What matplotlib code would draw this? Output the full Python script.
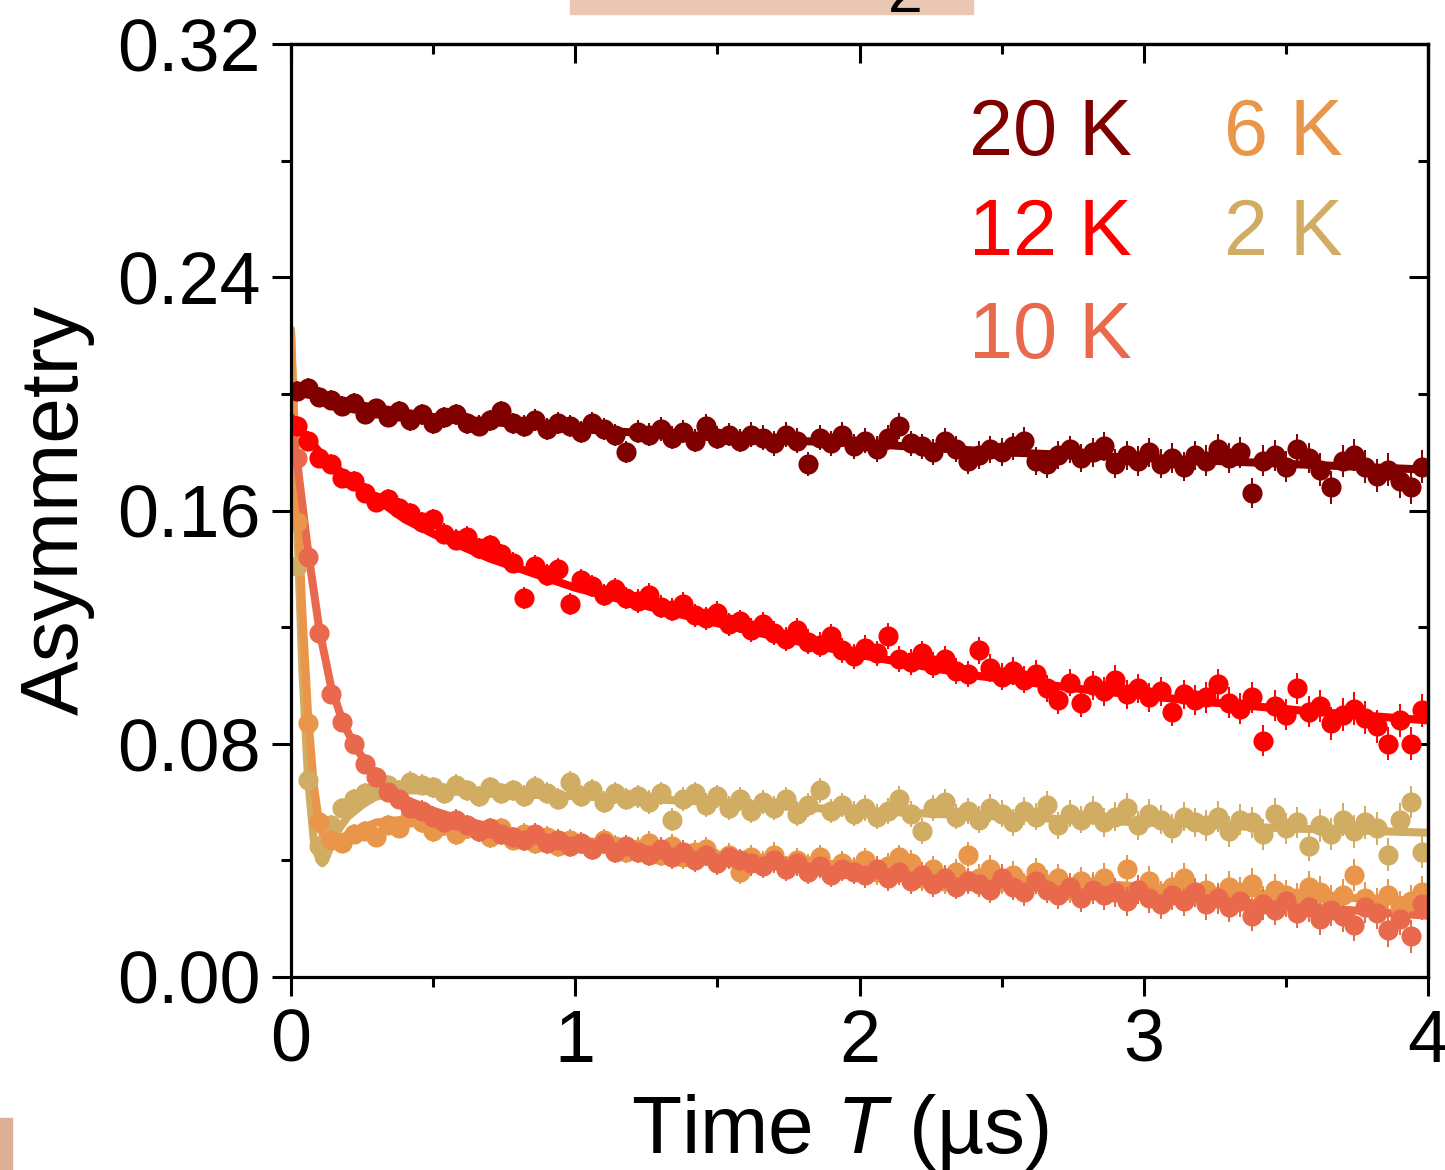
import matplotlib
matplotlib.use('Agg')
import matplotlib.pyplot as plt
import numpy as np
from matplotlib.ticker import MultipleLocator, FixedLocator
from matplotlib.patches import Rectangle

plt.rcParams['font.family'] = ['Liberation Sans', 'DejaVu Sans']
plt.rcParams['mathtext.fontset'] = 'custom'
plt.rcParams['mathtext.rm'] = 'Liberation Sans'
plt.rcParams['mathtext.it'] = 'Liberation Sans:italic'

# ---------------- data ----------------
time_us = [0.02, 0.06, 0.10, 0.14, 0.18, 0.22, 0.26, 0.30, 0.34, 0.38,
           0.42, 0.46, 0.50, 0.54, 0.58, 0.62, 0.66, 0.70, 0.74, 0.78,
           0.82, 0.86, 0.90, 0.94, 0.98, 1.02, 1.06, 1.10, 1.14, 1.18,
           1.22, 1.26, 1.30, 1.34, 1.38, 1.42, 1.46, 1.50, 1.54, 1.58,
           1.62, 1.66, 1.70, 1.74, 1.78, 1.82, 1.86, 1.90, 1.94, 1.98,
           2.02, 2.06, 2.10, 2.14, 2.18, 2.22, 2.26, 2.30, 2.34, 2.38,
           2.42, 2.46, 2.50, 2.54, 2.58, 2.62, 2.66, 2.70, 2.74, 2.78,
           2.82, 2.86, 2.90, 2.94, 2.98, 3.02, 3.06, 3.10, 3.14, 3.18,
           3.22, 3.26, 3.30, 3.34, 3.38, 3.42, 3.46, 3.50, 3.54, 3.58,
           3.62, 3.66, 3.70, 3.74, 3.78, 3.82, 3.86, 3.90, 3.94, 3.98]

# error bar half-widths per 0.4 us block (10 points each)
err_blocks = [0.0034, 0.0036, 0.0038, 0.0040, 0.0042, 0.0044, 0.0047, 0.0050, 0.0053, 0.0056]

a_20K = [0.201, 0.202, 0.199, 0.198, 0.196, 0.197, 0.193, 0.195, 0.192, 0.194,
         0.191, 0.193, 0.190, 0.192, 0.193, 0.190, 0.189, 0.191, 0.194, 0.190,
         0.189, 0.191, 0.188, 0.190, 0.189, 0.187, 0.190, 0.188, 0.186, 0.180,
         0.187, 0.186, 0.188, 0.185, 0.187, 0.184, 0.189, 0.185, 0.186, 0.184,
         0.186, 0.185, 0.183, 0.186, 0.184, 0.176, 0.185, 0.183, 0.186, 0.182,
         0.184, 0.181, 0.185, 0.189, 0.183, 0.182, 0.180, 0.184, 0.181, 0.177,
         0.179, 0.181, 0.180, 0.182, 0.184, 0.177, 0.176, 0.179, 0.181, 0.178,
         0.180, 0.182, 0.176, 0.179, 0.177, 0.180, 0.176, 0.178, 0.175, 0.179,
         0.177, 0.181, 0.178, 0.180, 0.166, 0.177, 0.179, 0.175, 0.181, 0.178,
         0.174, 0.168, 0.177, 0.179, 0.175, 0.172, 0.174, 0.170, 0.168, 0.175]

a_12K = [0.189, 0.184, 0.178, 0.176, 0.171, 0.170, 0.166, 0.163, 0.164, 0.161,
         0.159, 0.156, 0.157, 0.152, 0.150, 0.151, 0.147, 0.148, 0.145, 0.142,
         0.130, 0.141, 0.138, 0.140, 0.128, 0.136, 0.134, 0.131, 0.133, 0.130,
         0.129, 0.131, 0.127, 0.126, 0.128, 0.124, 0.123, 0.125, 0.121, 0.122,
         0.119, 0.121, 0.118, 0.116, 0.119, 0.115, 0.114, 0.117, 0.112, 0.110,
         0.113, 0.111, 0.117, 0.109, 0.108, 0.111, 0.107, 0.109, 0.105, 0.104,
         0.112, 0.106, 0.103, 0.105, 0.102, 0.104, 0.099, 0.095, 0.101, 0.094,
         0.100, 0.098, 0.102, 0.097, 0.099, 0.096, 0.098, 0.091, 0.097, 0.095,
         0.096, 0.1005, 0.094, 0.092, 0.096, 0.081, 0.093, 0.090, 0.099, 0.091,
         0.093, 0.087, 0.090, 0.092, 0.089, 0.086, 0.080, 0.088, 0.080, 0.0915]

a_10K = [0.178, 0.144, 0.118, 0.097, 0.0875, 0.080, 0.073, 0.0686, 0.0635, 0.061,
         0.058, 0.057, 0.055, 0.053, 0.054, 0.052, 0.050, 0.051, 0.049, 0.048,
         0.047, 0.049, 0.046, 0.047, 0.045, 0.046, 0.044, 0.046, 0.043, 0.045,
         0.043, 0.042, 0.044, 0.041, 0.043, 0.040, 0.042, 0.039, 0.041, 0.040,
         0.039, 0.038, 0.040, 0.037, 0.039, 0.036, 0.038, 0.035, 0.037, 0.036,
         0.035, 0.037, 0.034, 0.036, 0.033, 0.035, 0.032, 0.034, 0.031, 0.033,
         0.032, 0.030, 0.034, 0.031, 0.029, 0.033, 0.030, 0.028, 0.031, 0.027,
         0.030, 0.028, 0.029, 0.026, 0.030, 0.027, 0.025, 0.028, 0.026, 0.029,
         0.025, 0.027, 0.024, 0.026, 0.021, 0.025, 0.023, 0.026, 0.022, 0.024,
         0.020, 0.023, 0.021, 0.018, 0.024, 0.022, 0.016, 0.020, 0.014, 0.025]

a_6K = [0.156, 0.087, 0.053, 0.047, 0.046, 0.049, 0.050, 0.048, 0.052, 0.051,
        0.055, 0.053, 0.050, 0.052, 0.049, 0.051, 0.050, 0.048, 0.051, 0.047,
        0.049, 0.046, 0.048, 0.045, 0.047, 0.046, 0.044, 0.047, 0.045, 0.043,
        0.044, 0.046, 0.042, 0.045, 0.041, 0.043, 0.044, 0.040, 0.042, 0.036,
        0.041, 0.039, 0.042, 0.037, 0.040, 0.038, 0.041, 0.036, 0.039, 0.037,
        0.040, 0.036, 0.038, 0.041, 0.039, 0.034, 0.037, 0.033, 0.036, 0.042,
        0.034, 0.037, 0.033, 0.035, 0.031, 0.036, 0.032, 0.034, 0.030, 0.033,
        0.031, 0.034, 0.029, 0.037, 0.030, 0.033, 0.028, 0.031, 0.034, 0.029,
        0.030, 0.027, 0.031, 0.029, 0.032, 0.026, 0.030, 0.028, 0.027, 0.031,
        0.029, 0.026, 0.028, 0.035, 0.027, 0.025, 0.028, 0.024, 0.026, 0.029]

a_2K = [0.141, 0.0676, 0.045, 0.052, 0.058, 0.061, 0.063, 0.064, 0.066, 0.064,
        0.067, 0.066, 0.065, 0.063, 0.066, 0.064, 0.062, 0.065, 0.063, 0.064,
        0.062, 0.065, 0.063, 0.061, 0.067, 0.062, 0.064, 0.060, 0.063, 0.061,
        0.062, 0.060, 0.063, 0.054, 0.061, 0.063, 0.059, 0.062, 0.058, 0.061,
        0.057, 0.060, 0.058, 0.061, 0.056, 0.059, 0.064, 0.057, 0.059, 0.056,
        0.058, 0.055, 0.057, 0.061, 0.056, 0.050, 0.058, 0.060, 0.055, 0.057,
        0.054, 0.058, 0.056, 0.053, 0.057, 0.055, 0.059, 0.052, 0.056, 0.054,
        0.057, 0.053, 0.055, 0.058, 0.052, 0.056, 0.054, 0.051, 0.055, 0.053,
        0.052, 0.055, 0.050, 0.054, 0.053, 0.049, 0.056, 0.051, 0.053, 0.045,
        0.052, 0.049, 0.054, 0.050, 0.053, 0.051, 0.042, 0.054, 0.060, 0.043]

# fit curves
fit_t_20K = [0.0, 0.25, 0.5, 1.0, 1.5, 2.0, 2.5, 3.0, 3.5, 4.0]
fit_20K = [0.201, 0.196, 0.192, 0.188, 0.185, 0.183, 0.180, 0.178, 0.176, 0.174]

fit_t_12K = [0.0, 0.1, 0.2, 0.3, 0.4, 0.5, 0.7, 1.0, 1.3, 1.6, 2.0, 2.4, 2.8, 3.2, 3.6, 4.0]
fit_12K = [0.192, 0.180, 0.171, 0.164, 0.157, 0.152, 0.1435, 0.1335, 0.126, 0.119,
           0.1105, 0.1035, 0.0985, 0.0945, 0.091, 0.088]

fit_t_10K = [0.0, 0.02, 0.06, 0.10, 0.14, 0.18, 0.22, 0.26, 0.30, 0.35, 0.4, 0.5, 0.6,
             0.8, 1.0, 1.3, 1.6, 2.0, 2.5, 3.0, 3.5, 4.0]
fit_10K = [0.192, 0.178, 0.146, 0.119, 0.100, 0.088, 0.080, 0.074, 0.069, 0.065, 0.061,
           0.057, 0.054, 0.049, 0.046, 0.0425, 0.0395, 0.036, 0.032, 0.028, 0.0245, 0.021]

fit_t_6K = [0.0, 0.02, 0.04, 0.06, 0.08, 0.10, 0.12, 0.14, 0.17, 0.2, 0.25, 0.3, 0.4,
            0.5, 0.7, 1.0, 1.5, 2.0, 2.5, 3.0, 3.5, 4.0]
fit_6K = [0.222, 0.170, 0.125, 0.090, 0.066, 0.052, 0.047, 0.046, 0.047, 0.049, 0.051,
          0.053, 0.054, 0.053, 0.051, 0.047, 0.042, 0.038, 0.034, 0.031, 0.028, 0.026]

fit_t_2K = [0.0, 0.02, 0.04, 0.06, 0.08, 0.10, 0.11, 0.12, 0.14, 0.17, 0.2, 0.25, 0.3,
            0.4, 0.5, 0.7, 1.0, 1.5, 2.0, 2.5, 3.0, 3.5, 4.0]
fit_2K = [0.222, 0.160, 0.105, 0.068, 0.047, 0.040, 0.039, 0.040, 0.045, 0.051, 0.055,
          0.059, 0.062, 0.064, 0.064, 0.063, 0.062, 0.060, 0.057, 0.055, 0.053, 0.051, 0.0495]

labels = ['2 K', '6 K', '10 K', '12 K', '20 K']
colors = ['#D1AD63', '#E9964B', '#E8694B', '#FF0000', '#800000']

# ---------------- figure ----------------
W, H = 1445, 1170
fig = plt.figure(figsize=(W / 100, H / 100), dpi=100)
ax = fig.add_axes([291 / W, 1 - 977 / H, (1428 - 291) / W, (977 - 44) / H])

err = np.repeat(err_blocks, 10)
series = [(a_2K, fit_t_2K, fit_2K), (a_6K, fit_t_6K, fit_6K), (a_10K, fit_t_10K, fit_10K),
          (a_12K, fit_t_12K, fit_12K), (a_20K, fit_t_20K, fit_20K)]
for (vals, ft, fv), c in zip(series, colors):
    ax.errorbar(time_us, vals, yerr=err, fmt='o', color=c, ms=14.5, mec=c, mew=0,
                elinewidth=1.4, capsize=8, capthick=1.6, clip_on=True)
    ax.plot(ft, fv, '-', color=c, lw=5.8, solid_capstyle='round')

ax.set_xlim(0, 4)
ax.set_ylim(0, 0.32)
ax.xaxis.set_major_locator(FixedLocator([0, 1, 2, 3, 4]))
ax.xaxis.set_minor_locator(MultipleLocator(0.5))
ax.yaxis.set_major_locator(FixedLocator([0, 0.08, 0.16, 0.24, 0.32]))
ax.yaxis.set_minor_locator(MultipleLocator(0.04))
ax.set_xticklabels(['0', '1', '2', '3', '4'])
ax.set_yticklabels(['0.00', '0.08', '0.16', '0.24', '0.32'])
for s in ax.spines.values():
    s.set_linewidth(2.3)
ax.tick_params(which='major', direction='out', length=14, width=2.2, labelsize=53,
               pad=8, top=False, right=False)
ax.tick_params(which='minor', direction='out', length=7, width=2.2, top=False, right=False)

sx = ax.secondary_xaxis('top')
sx.xaxis.set_major_locator(FixedLocator([0, 1, 2, 3, 4]))
sx.xaxis.set_minor_locator(MultipleLocator(0.5))
sx.tick_params(which='major', direction='in', length=14, width=2.2, labeltop=False)
sx.tick_params(which='minor', direction='in', length=7, width=2.2)
sx.spines['top'].set_linewidth(2.3)

sy = ax.secondary_yaxis('right')
sy.yaxis.set_major_locator(FixedLocator([0, 0.08, 0.16, 0.24, 0.32]))
sy.yaxis.set_minor_locator(MultipleLocator(0.04))
sy.tick_params(which='major', direction='in', length=14, width=2.2, labelright=False)
sy.tick_params(which='minor', direction='in', length=7, width=2.2)
sy.spines['right'].set_linewidth(2.3)

# axis titles
fig.text(840 / W, 1 - 1153 / H, 'Time $T$ (µs)', fontsize=59, ha='center', va='baseline')
fig.text(78 / W, 1 - 510 / H, 'Asymmetry', fontsize=59, rotation=90,
         rotation_mode='anchor', ha='center', va='baseline')

# in-plot legend text
legend_pos = {'20 K': (1132, 155), '12 K': (1132, 255), '10 K': (1132, 358),
              '6 K': (1343, 155), '2 K': (1343, 255)}
for lab, c in zip(labels, colors):
    x, y = legend_pos[lab]
    fig.text(x / W, 1 - y / H, lab, fontsize=57, color=c, ha='right', va='baseline')

# cropping remnants at the edges of the original picture
fig.patches.append(Rectangle((570 / W, 1 - 14 / H), 403 / W, 14 / H,
                             transform=fig.transFigure, color='#EAC6B4', zorder=0))
fig.patches.append(Rectangle((0, 0), 12 / W, 52 / H, transform=fig.transFigure,
                             color='#E0AF97', zorder=0))
fig.text(905 / W, 1 - 12 / H, '2', fontsize=45, ha='center', va='baseline')

fig.savefig('out.png', dpi=100)
